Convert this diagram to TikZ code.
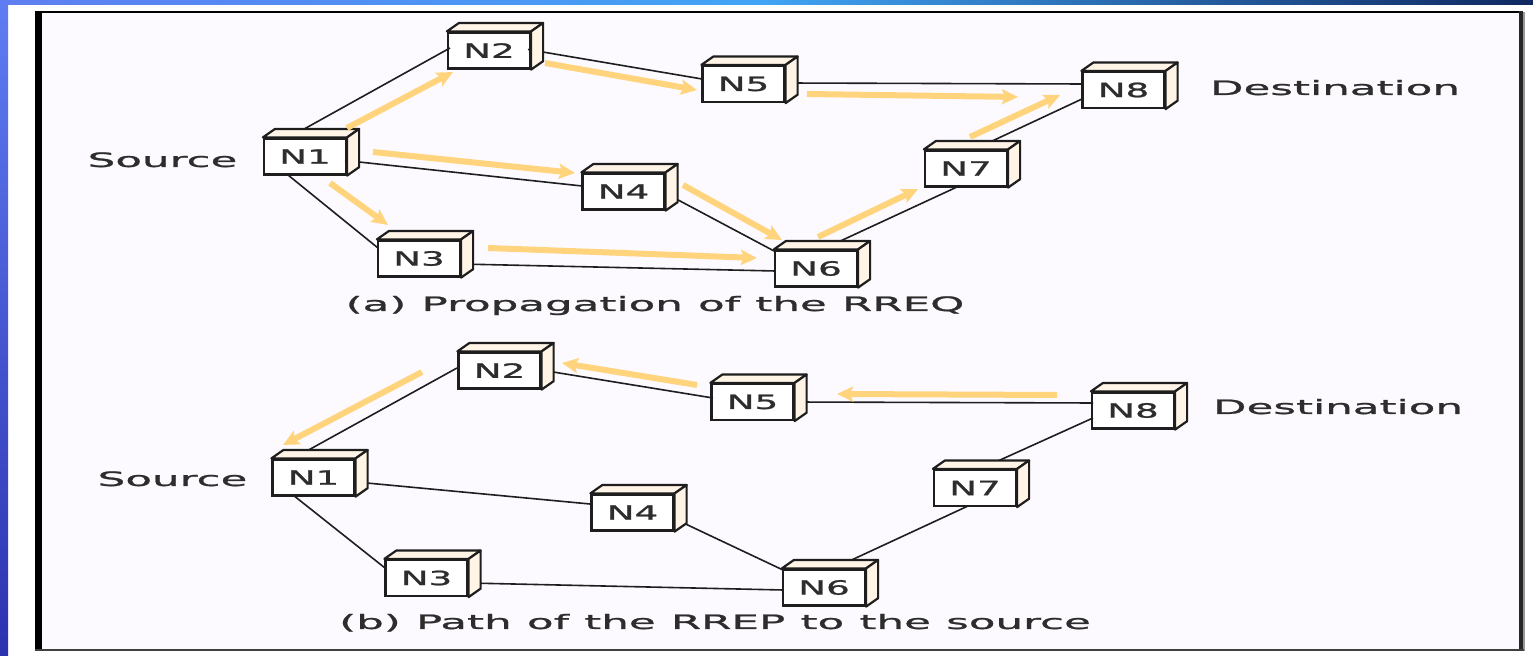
\documentclass[tikz,border=0pt]{standalone}
\usepackage{fontspec}
\newfontfamily\lblfont[FakeStretch=2.2,FakeBold=1.2,WordSpace=1.1]{DejaVu Sans}
\newfontfamily\boxfont[FakeStretch=1.9,FakeBold=1.2]{DejaVu Sans}
\usetikzlibrary{arrows.meta}

\definecolor{panel}{RGB}{252,250,254}
\definecolor{cream}{RGB}{255,244,230}
\definecolor{flow}{RGB}{255,212,125}
\definecolor{ink}{RGB}{30,30,30}
\definecolor{textgrey}{RGB}{45,45,45}
\definecolor{stripA}{RGB}{95,125,242}
\definecolor{stripB}{RGB}{65,165,245}
\definecolor{stripC}{RGB}{15,40,95}
\definecolor{stripD}{RGB}{45,50,175}

\tikzset{
  box/.style={draw=ink, line width=1.1pt, fill=white, minimum width=41pt,
    minimum height=18pt, inner sep=0pt, text=textgrey,
    font=\boxfont\fontsize{9.8}{10}\selectfont},
  face/.style={draw=ink, fill=cream, line width=1.1pt, line join=round},
  link/.style={draw=ink, line width=0.8pt},
  flowarrow/.style={draw=flow, line width=3pt,
    -{Stealth[length=8pt,width=7.5pt,inset=1.5pt]}},
  tag/.style={anchor=base, text=textgrey, inner sep=0pt,
    font=\lblfont\fontsize{9.9}{10}\selectfont}
}

\begin{document}
\begin{tikzpicture}[x=0.5pt,y=-0.5pt]
\useasboundingbox (0,0) rectangle (1533,656);

% slide background and blue edge strips
\fill[white] (0,0) rectangle (1533,656);
\shade[top color=stripA, bottom color=stripD] (0,0) rectangle (8,656);
\shade[left color=stripA, right color=stripB] (0,0) rectangle (760,5);
\shade[left color=stripB, right color=stripC] (760,0) rectangle (1533,5);

% framed figure panel
\fill[panel] (38,12) rectangle (1521,650);
\fill[black] (35,11) rectangle (42,651);
\draw[line width=1pt] (35,12) -- (1522,12);
\fill[black!85] (1519,11) rectangle (1523,651);
\fill[black!40] (1523,12) rectangle (1525,651);
\draw[line width=1pt, black!75] (35,650) -- (1524,650);

% ---------- (a) propagation of the RREQ ----------
\node[box] (a1) at (305,156.5) {N1};
\node[box] (a2) at (489,50.5) {N2};
\node[box] (a3) at (419,258.5) {N3};
\node[box] (a4) at (623.5,191.5) {N4};
\node[box] (a5) at (743.5,84) {N5};
\node[box] (a6) at (816,268.5) {N6};
\node[box] (a7) at (966,168.5) {N7};
\node[box] (a8) at (1123.5,90) {N8};

\draw[link] ([shift={(-17,-18.5)}]a1.center) -- ([shift={(-39,-2.5)}]a2.center);
\draw[link] ([shift={(40,4)}]a1.center) -- ([shift={(-41.5,-5.5)}]a4.center);
\draw[link] ([shift={(-17,18.5)}]a1.center) -- ([shift={(-41,-10.5)}]a3.center);
\draw[link] ([shift={(39,-1)}]a2.center) -- ([shift={(-41.5,-5)}]a5.center);
\draw[link] ([shift={(41.5,-1)}]a5.center) -- ([shift={(-41.5,-6)}]a8.center);
\draw[link] ([shift={(41,5.5)}]a3.center) -- ([shift={(-41,2.5)}]a6.center);
\draw[link] ([shift={(41.5,1.5)}]a4.center) -- ([shift={(-41,-17)}]a6.center);
\draw[link] ([shift={(5,-18.5)}]a6.center) -- ([shift={(-9,18.5)}]a7.center);
\draw[link] ([shift={(7,-18.5)}]a7.center) -- ([shift={(-41.5,9)}]a8.center);

% ---------- (b) path of the RREP ----------
\node[box] (b1) at (313.5,477.5) {N1};
\node[box] (b2) at (499.5,370.5) {N2};
\node[box] (b3) at (426.5,578) {N3};
\node[box] (b4) at (632.5,512.5) {N4};
\node[box] (b5) at (752.5,402) {N5};
\node[box] (b6) at (824,587.5) {N6};
\node[box] (b7) at (975,488) {N7};
\node[box] (b8) at (1133,410.5) {N8};

\draw[link] ([shift={(-42.5,-2.5)}]b2.center) -- ([shift={(-23,-17.5)}]b1.center);
\draw[link] ([shift={(42.5,-0.3)}]b2.center) -- ([shift={(-39.5,-4)}]b5.center);
\draw[link] ([shift={(39.5,0)}]b5.center) -- ([shift={(-40,-7.5)}]b8.center);
\draw[link] ([shift={(-40,7.5)}]b8.center) -- ([shift={(3,-18)}]b7.center);
\draw[link] ([shift={(-7,18)}]b7.center) -- ([shift={(6,-17.5)}]b6.center);
\draw[link] ([shift={(41.5,4.4)}]b1.center) -- ([shift={(-42.5,-8.5)}]b4.center);
\draw[link] ([shift={(-20.5,17.5)}]b1.center) -- ([shift={(-41.5,-10)}]b3.center);
\draw[link] ([shift={(42.5,6.5)}]b4.center) -- ([shift={(-41,-17.5)}]b6.center);
\draw[link] ([shift={(41.5,5)}]b3.center) -- ([shift={(-41,2.5)}]b6.center);

% top and side faces of every station box
\foreach \n in {a1,a2,a3,a4,a5,a6,a7,a8,b1,b2,b3,b4,b5,b6,b7,b8} {
  \filldraw[face] (\n.north west) -- ++(6pt,4.2pt)
    -- ([shift={(6pt,4.2pt)}]\n.north east) -- (\n.north east) -- cycle;
  \filldraw[face] (\n.north east) -- ++(6pt,4.2pt)
    -- ([shift={(6pt,4.2pt)}]\n.south east) -- (\n.south east) -- cycle;
}

% request flooding
\draw[flowarrow] ([shift={(42,-28.5)}]a1.center) -- ([shift={(-36,21.5)}]a2.center);
\draw[flowarrow] ([shift={(68,-4.5)}]a1.center) -- ([shift={(-48.5,-18.5)}]a4.center);
\draw[flowarrow] ([shift={(25,26.5)}]a1.center) -- ([shift={(-31,-33.5)}]a3.center);
\draw[flowarrow] ([shift={(56,12.5)}]a2.center) -- ([shift={(-46.5,6)}]a5.center);
\draw[flowarrow] ([shift={(63.5,10)}]a5.center) -- ([shift={(-105.5,7)}]a8.center);
\draw[flowarrow] ([shift={(4,-31.5)}]a7.center) -- ([shift={(-63.5,5)}]a8.center);
\draw[flowarrow] ([shift={(59.5,-6.5)}]a4.center) -- ([shift={(-34,-28.5)}]a6.center);
\draw[flowarrow] ([shift={(69,-10.5)}]a3.center) -- ([shift={(-59,-10.5)}]a6.center);
\draw[flowarrow] ([shift={(2,-31.5)}]a6.center) -- ([shift={(-48,20.5)}]a7.center);

% reply travelling back to the source
\draw[flowarrow] ([shift={(-77.5,1.5)}]b2.center) -- ([shift={(-30.5,-32.5)}]b1.center);
\draw[flowarrow] ([shift={(-55.5,-17)}]b5.center) -- ([shift={(62.5,-7.5)}]b2.center);
\draw[flowarrow] ([shift={(-76,-15.5)}]b8.center) -- ([shift={(84.5,-8)}]b5.center);

% labels
\node[tag] (srcA) at (162.5,167) {Source};
\node[tag] (dstA) at (1335,95) {Destination};
\node[tag] (capA) at (655,311) {(a) Propagation of the RREQ};
\node[tag] (srcB) at (172.5,486) {Source};
\node[tag] (dstB) at (1338,414) {Destination};
\node[tag] (capB) at (715,629) {(b) Path of the RREP to the source};
\end{tikzpicture}
\end{document}
